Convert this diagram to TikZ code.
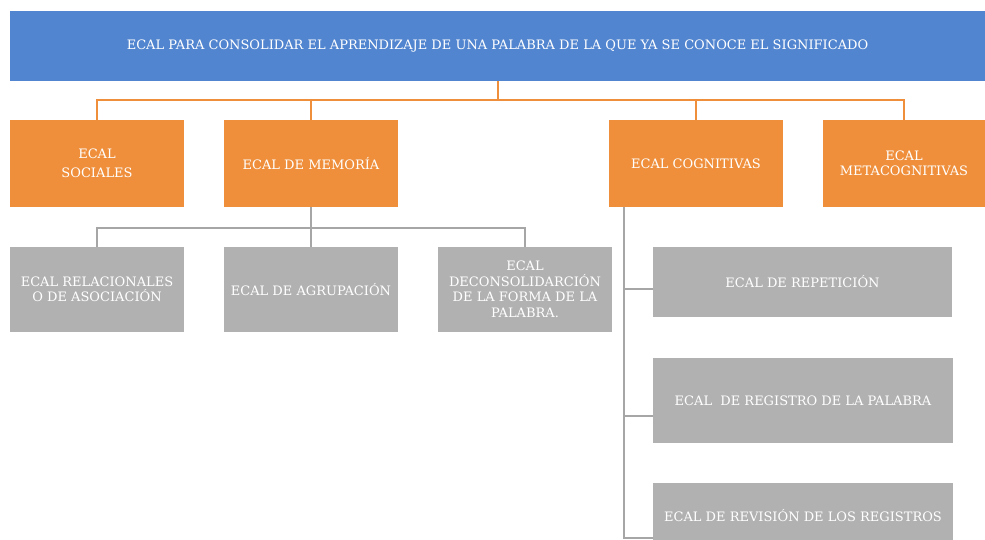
\documentclass[tikz,border=0pt]{standalone}
\usepackage{fontspec}
\setmainfont{DejaVu Serif}
\usepackage{xcolor}
\usepackage{tikz}
\usetikzlibrary{calc}
\definecolor{EcalBlue}{HTML}{5285CF}
\definecolor{EcalOrange}{HTML}{EF8F3B}
\definecolor{EcalGrey}{HTML}{B1B1B1}
\definecolor{EcalLine}{HTML}{A6A6A6}
\newcommand{\ecalbox}[4]{%
  \node[fill=#1,text=white,align=center,inner sep=0pt,
        font=\fontsize{13}{15.5}\selectfont,#4] (#2) {#3};%
}

\begin{document}
\begin{tikzpicture}[x=1pt,y=-1pt]
    \path[fill=white,use as bounding box] (0,0) rectangle (985,540);
    \ecalbox{EcalBlue}{root}{ECAL PARA CONSOLIDAR EL APRENDIZAJE DE UNA PALABRA DE LA QUE YA SE CONOCE EL SIGNIFICADO}{minimum width=975pt,minimum height=70pt,at={(497.5,46)}}
    \ecalbox{EcalOrange}{soc}{ECAL\\[3pt]SOCIALES}{minimum width=174pt,minimum height=87pt,at={(97,163.5)}}
    \ecalbox{EcalOrange}{mem}{ECAL DE MEMORÍA}{minimum width=174pt,minimum height=87pt,at={(311,163.5)}}
    \ecalbox{EcalOrange}{cog}{ECAL COGNITIVAS}{minimum width=174pt,minimum height=87pt,at={(696,163.5)}}
    \ecalbox{EcalOrange}{meta}{ECAL\\METACOGNITIVAS}{minimum width=162pt,minimum height=87pt,at={(904,163.5)}}
    \ecalbox{EcalGrey}{rel}{ECAL RELACIONALES\\O DE ASOCIACIÓN}{minimum width=174pt,minimum height=85pt,at={(97,289.5)}}
    \ecalbox{EcalGrey}{agr}{ECAL DE AGRUPACIÓN}{minimum width=174pt,minimum height=85pt,at={(311,289.5)}}
    \ecalbox{EcalGrey}{dec}{ECAL\\DECONSOLIDARCIÓN\\DE LA FORMA DE LA\\PALABRA.}{minimum width=174pt,minimum height=85pt,at={(525,289.5)}}
    \ecalbox{EcalGrey}{rep}{ECAL DE REPETICIÓN}{minimum width=299pt,minimum height=70pt,at={(802.5,282)}}
    \ecalbox{EcalGrey}{reg}{ECAL~ DE REGISTRO DE LA PALABRA}{minimum width=300pt,minimum height=85pt,at={(803,400.5)}}
    \ecalbox{EcalGrey}{rev}{ECAL DE REVISIÓN DE LOS REGISTROS}{minimum width=300pt,minimum height=66pt,at={(803,516)}}
    % first level
    \draw[EcalOrange,line width=2pt] (root.south) -- ++(0,19) -| (soc.north);
    \draw[EcalOrange,line width=2pt] (root.south) -- ++(0,19) -| (mem.north);
    \draw[EcalOrange,line width=2pt] (root.south) -- ++(0,19) -| (cog.north);
    \draw[EcalOrange,line width=2pt] (root.south) -- ++(0,19) -| (meta.north);
    % memoria
    \draw[EcalLine,line width=2pt] (mem.south) -- ++(0,21) -| (rel.north);
    \draw[EcalLine,line width=2pt] (mem.south) -- ++(0,21) -| (agr.north);
    \draw[EcalLine,line width=2pt] (mem.south) -- ++(0,21) -| (dec.north);
    % cognitivas
    \coordinate (spine) at ($(cog.south west)+(15,0)$);
    \draw[EcalLine,line width=2pt] ($(rep.west)+(0,7)$) -| (spine);
    \draw[EcalLine,line width=2pt] ($(reg.west)+(0,15)$) -| (spine);
    \draw[EcalLine,line width=2pt] ($(rev.west)+(0,22)$) -| (spine);
  \end{tikzpicture}
\end{document}
